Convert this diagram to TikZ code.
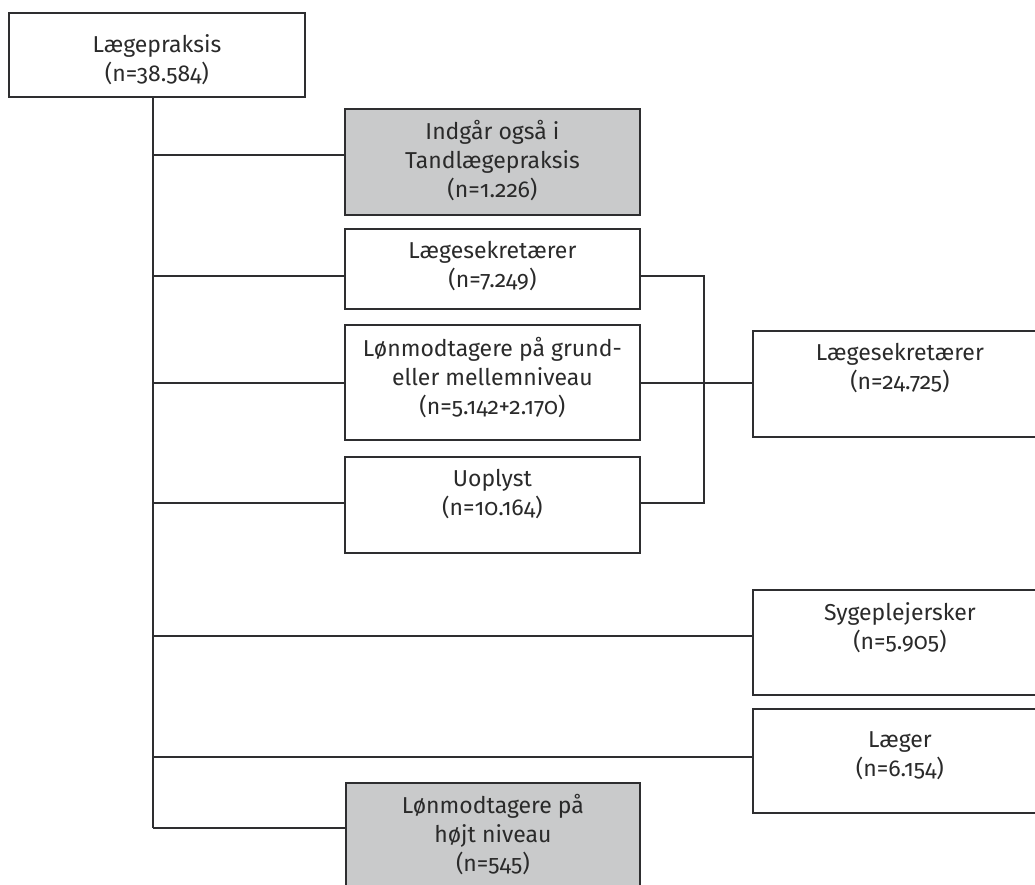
\documentclass[tikz,border=0pt]{standalone}
\usepackage{fontspec}
\setmainfont{Fira Sans}[Numbers=OldStyle]
\definecolor{linec}{HTML}{2E2E30}
\definecolor{boxgray}{HTML}{C9CACB}
\definecolor{txtc}{HTML}{2A2A2A}
\begin{document}
\begin{tikzpicture}[x=1pt,y=-1pt,
  box/.style={draw=linec,line width=1.8pt,rectangle,inner sep=0pt,anchor=north west},
  graybox/.style={box,fill=boxgray},
  txt/.style={align=center,inner sep=0pt,anchor=north,text=txtc,
    font=\fontsize{23}{29}\selectfont,execute at begin node=\strut},
  conn/.style={draw=linec,line width=1.8pt}]
\useasboundingbox (0,0) rectangle (1035,884);
\clip (0,0) rectangle (1035,884);
% boxes
\node[box,minimum width=296pt,minimum height=84pt] (top) at (8,12) {};
\node[graybox,minimum width=295pt,minimum height=106pt] (ind) at (344,108) {};
\node[box,minimum width=295pt,minimum height=80pt] (lsk) at (344,228) {};
\node[box,minimum width=295pt,minimum height=115pt] (lon) at (344,324) {};
\node[box,minimum width=295pt,minimum height=96pt] (uop) at (344,456) {};
\node[box,minimum width=294pt,minimum height=106pt] (lsk2) at (752,330) {};
\node[box,minimum width=294pt,minimum height=105pt] (syg) at (752,589) {};
\node[box,minimum width=294pt,minimum height=104pt] (lae) at (752,708) {};
\node[graybox,minimum width=294pt,minimum height=130pt] (hoj) at (345,782) {};
% texts
\node[txt] (toptx) at ([yshift=-22pt]top.north) {Lægepraksis\\(n=38.584)};
\node[txt] (indtx) at ([yshift=-12pt]ind.north) {Indgår også i\\Tandlægepraksis\\(n=1.226)};
\node[txt] (lsktx) at ([yshift=-13pt]lsk.north) {Lægesekretærer\\(n=7.249)};
\node[txt] (lontx) at ([yshift=-13pt]lon.north) {Lønmodtagere på grund-\\eller mellemniveau\\(n=5.142+2.170)};
\node[txt] (uoptx) at ([yshift=-13pt]uop.north) {Uoplyst\\(n=10.164)};
\node[txt] (lsk2tx) at ([yshift=-13pt]lsk2.north) {Lægesekretærer\\(n=24.725)};
\node[txt] (sygtx) at ([yshift=-13pt]syg.north) {Sygeplejersker\\(n=5.905)};
\node[txt] (laetx) at ([yshift=-23pt]lae.north) {Læger\\(n=6.154)};
\node[txt] (hojtx) at ([yshift=-12pt]hoj.north) {Lønmodtagere på\\højt niveau\\(n=545)};
% trunk coordinates
\coordinate (t1) at (153,155);
\coordinate (t2) at (153,276);
\coordinate (t3) at (153,383);
\coordinate (t4) at (153,503);
\coordinate (t5) at (153,636);
\coordinate (t6) at (153,757);
\coordinate (t7) at (153,828);
\coordinate (br) at (704,276);
\draw[conn] (top.south -| t7) -- (t7);
\draw[conn] (t1) -- (t1 -| ind.west);
\draw[conn] (t2) -- (t2 -| lsk.west);
\draw[conn] (t3) -- (t3 -| lon.west);
\draw[conn] (t4) -- (t4 -| uop.west);
\draw[conn] (t5) -- (t5 -| syg.west);
\draw[conn] (t6) -- (t6 -| lae.west);
\draw[conn] (t7) -- (t7 -| hoj.west);
% bracket
\draw[conn] (t2 -| lsk.east) -- (br) -- (br |- t4) -- (t4 -| uop.east);
\draw[conn] (t3 -| lon.east) -- (t3 -| lsk2.west);
\end{tikzpicture}
\end{document}
